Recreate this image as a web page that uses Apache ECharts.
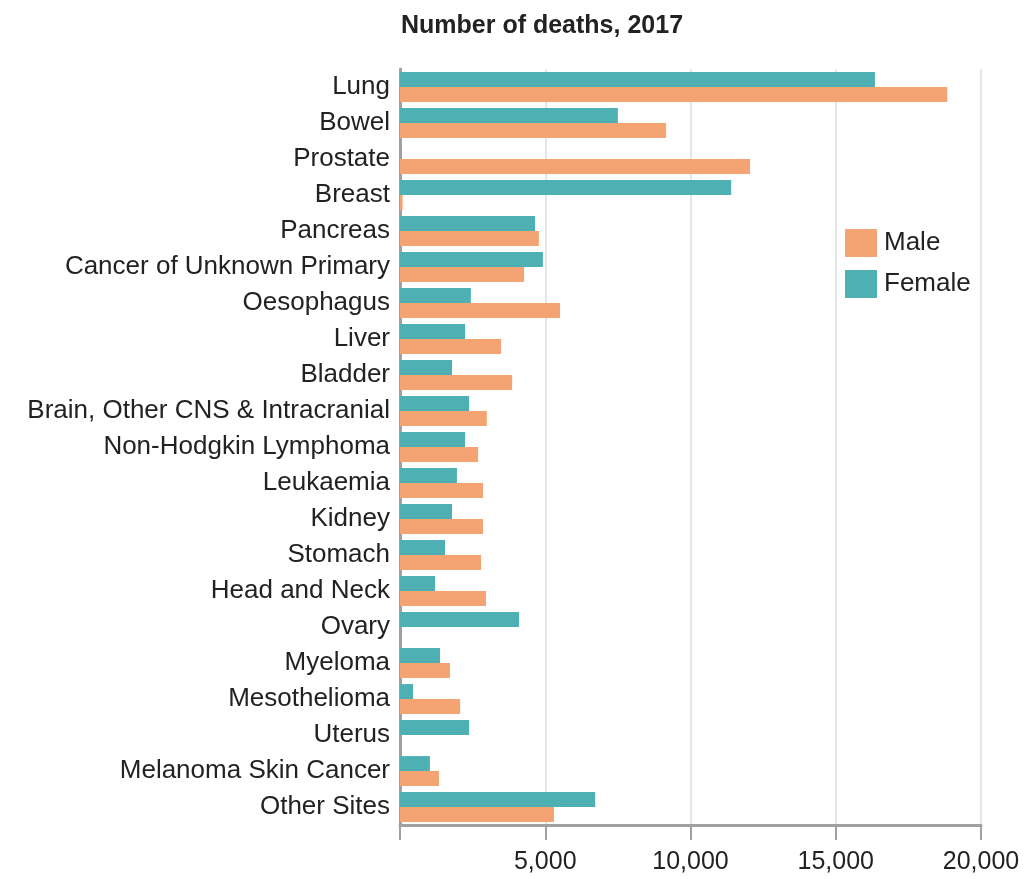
<!DOCTYPE html>
<html>
<head>
<meta charset="utf-8">
<script src="https://cdn.jsdelivr.net/npm/echarts@6/dist/echarts.min.js"></script>
<style>
  html, body { margin: 0; padding: 0; background: #fff; }
  #chart { width: 1024px; height: 879px; }
</style>
</head>
<body>
<div id="chart"></div>
<script>
var cancerSites = [
  "Lung", "Bowel", "Prostate", "Breast", "Pancreas",
  "Cancer of Unknown Primary", "Oesophagus", "Liver", "Bladder",
  "Brain, Other CNS & Intracranial", "Non-Hodgkin Lymphoma", "Leukaemia",
  "Kidney", "Stomach", "Head and Neck", "Ovary", "Myeloma",
  "Mesothelioma", "Uterus", "Melanoma Skin Cancer", "Other Sites"
];
var maleDeaths = [
  18840, 9160, 12050, 90, 4780,
  4270, 5510, 3480, 3860,
  2990, 2690, 2860,
  2860, 2790, 2960, 0, 1720,
  2070, 0, 1340, 5300
];
var femaleDeaths = [
  16350, 7500, 0, 11400, 4650,
  4920, 2440, 2240, 1790,
  2380, 2240, 1960,
  1790, 1550, 1210, 4100, 1380,
  450, 2380, 1030, 6720
];
var xTicks = [0, 5000, 10000, 15000, 20000];

function init_deaths_chart(container) {
  var chartDom = document.getElementById(container);
  var myChart = echarts.init(chartDom);
  var option;

  option = {
    animation: false,
    textStyle: {
      fontFamily: "Liberation Sans, Arial, sans-serif",
    },
    title: {
      text: "Number of deaths, 2017",
      left: 396,
      top: 9,
      textStyle: {
        color: "#222",
        fontSize: 25,
        fontWeight: "bold",
      },
    },
    legend: {
      data: ["Male", "Female"],
      orient: "vertical",
      left: 840,
      top: 224,
      itemWidth: 32,
      itemHeight: 28,
      itemGap: 13,
      icon: "rect",
      textStyle: {
        color: "#222",
        fontSize: 26,
        padding: [0, 0, 0, 2],
      },
    },
    grid: {
      left: 400,
      right: 43,
      top: 69,
      bottom: 54,
    },
    xAxis: {
      type: "value",
      min: xTicks[0],
      max: xTicks[xTicks.length - 1],
      interval: 5000,
      axisLine: {
        show: true,
        lineStyle: { color: "#a0a0a0", width: 3 },
      },
      axisTick: {
        show: true,
        length: 15,
        lineStyle: { color: "#a0a0a0", width: 2 },
      },
      axisLabel: {
        color: "#222",
        fontSize: 25,
        margin: 25,
        formatter: function (v) {
          return v === 0 ? "" : v.toLocaleString("en-US");
        },
      },
      splitLine: {
        show: true,
        lineStyle: { color: "#e6e6e6", width: 2 },
      },
    },
    yAxis: {
      type: "category",
      inverse: true,
      data: cancerSites,
      axisLine: {
        show: true,
        lineStyle: { color: "#a0a0a0", width: 3 },
      },
      axisTick: { show: false },
      axisLabel: {
        color: "#222",
        fontSize: 26,
        margin: 10,
      },
    },
    series: [
      {
        name: "Female",
        type: "bar",
        data: femaleDeaths,
        barGap: "0%",
        barCategoryGap: "17%",
        itemStyle: { color: "#4fb0b4" },
      },
      {
        name: "Male",
        type: "bar",
        data: maleDeaths,
        barGap: "0%",
        barCategoryGap: "17%",
        itemStyle: { color: "#f4a373" },
      },
    ],
  };

  option && myChart.setOption(option);
  window.addEventListener("resize", function () {
    myChart.resize();
  });
}

init_deaths_chart("chart");
</script>
</body>
</html>
